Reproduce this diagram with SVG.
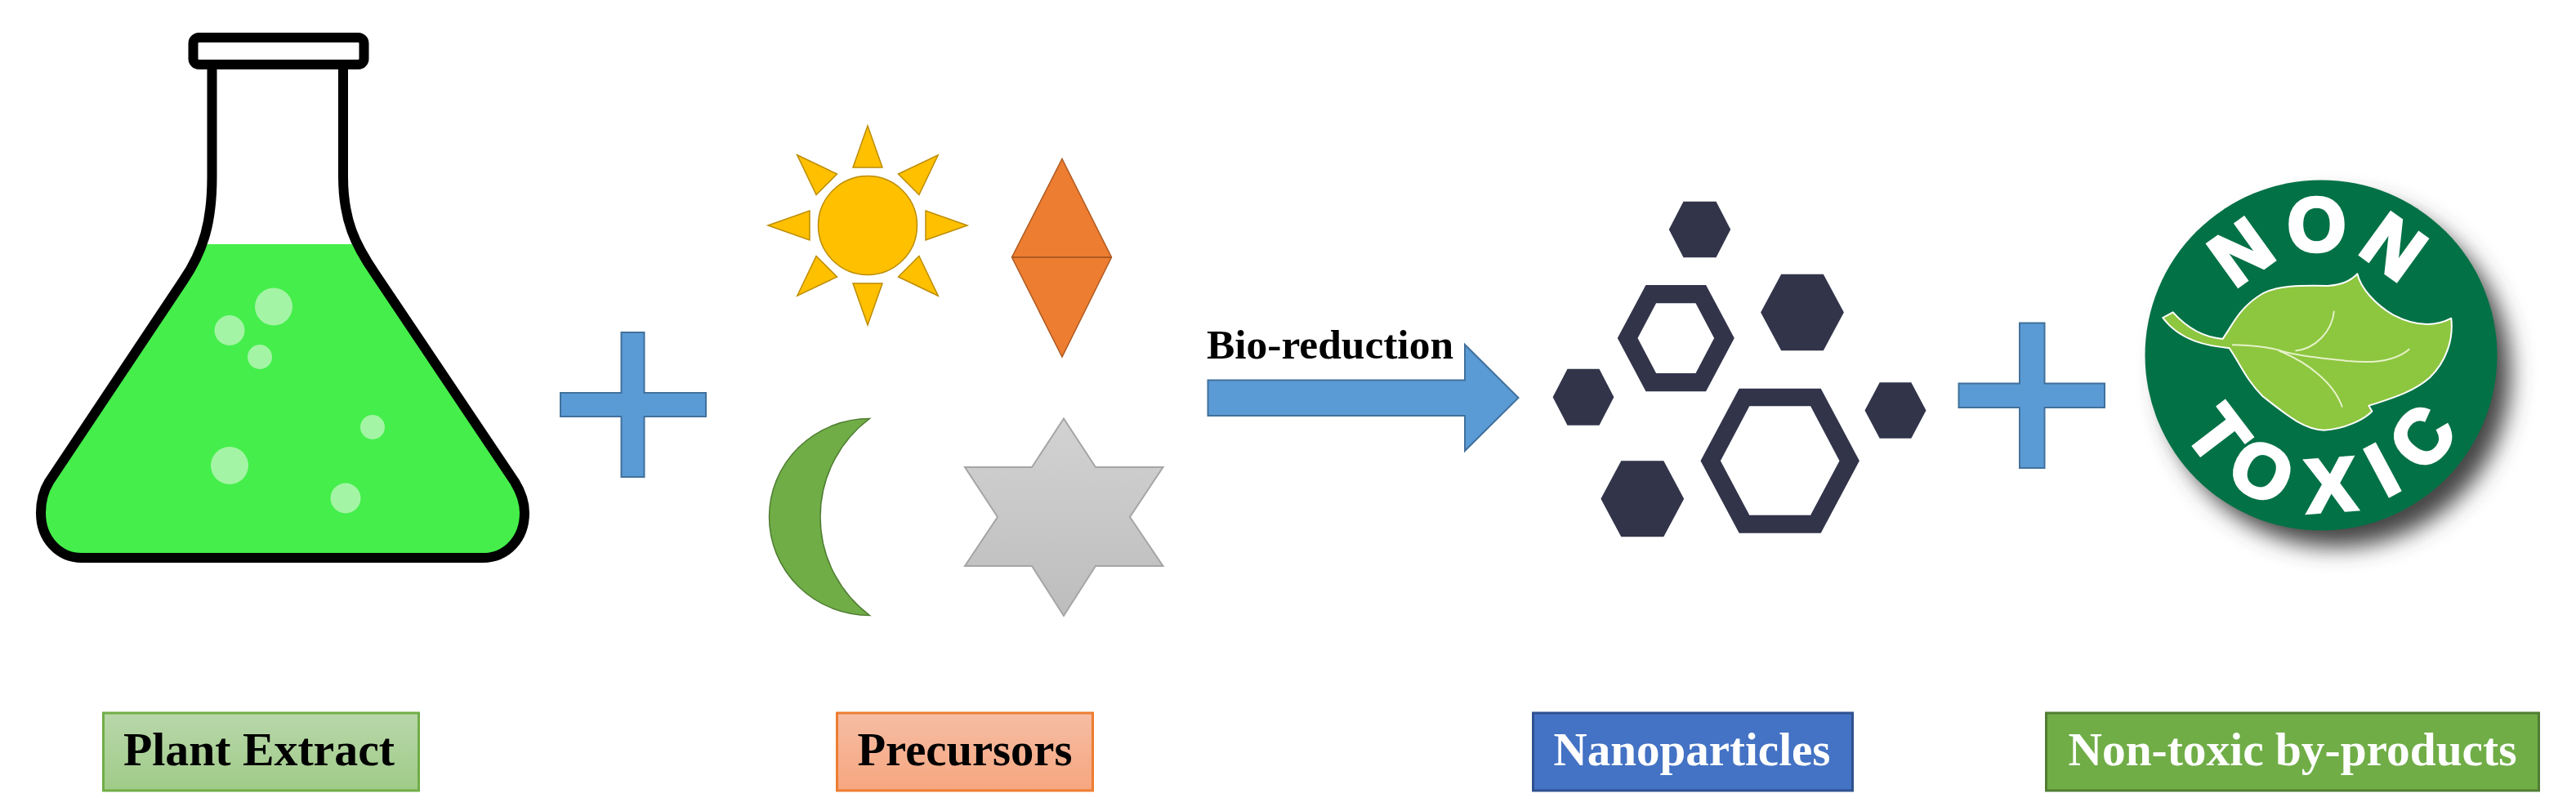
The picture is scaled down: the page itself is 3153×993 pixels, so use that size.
<svg xmlns="http://www.w3.org/2000/svg" width="3153" height="993" viewBox="0 0 3153 993">
<style>
.lbl{font-family:"Liberation Serif","Times New Roman",serif;font-weight:700;font-size:57px}
.blue{fill:#5b9bd5;stroke:#41719c;stroke-width:2}
.bub{fill:#a3f5a5}
.hex{fill:#32344a;fill-rule:evenodd}
.ray{fill:#ffc000;stroke:#bc8c00;stroke-width:1.5}
.bt{font-family:"Liberation Sans",Arial,sans-serif;font-weight:700;fill:#fff;stroke:#fff;stroke-width:4.5}
</style>
<defs>
<clipPath id="liq"><rect x="0" y="299" width="700" height="420"/></clipPath>
<linearGradient id="gG" x1="0" y1="0" x2="0" y2="1"><stop offset="0" stop-color="#b8d7aa"/><stop offset="1" stop-color="#a0cb88"/></linearGradient>
<linearGradient id="gO" x1="0" y1="0" x2="0" y2="1"><stop offset="0" stop-color="#f6bda4"/><stop offset="1" stop-color="#f6a67f"/></linearGradient>
<linearGradient id="gS" x1="0" y1="0" x2="0" y2="1"><stop offset="0" stop-color="#d2d2d2"/><stop offset="1" stop-color="#bdbdbd"/></linearGradient>
<filter id="blur" x="-20%" y="-20%" width="140%" height="140%"><feGaussianBlur stdDeviation="14"/></filter>
<path id="arcTop" d="M2713 435A128 128 0 0 1 2969 435"/>
<path id="arcBot" d="M2650 435A191 191 0 0 0 3032 435"/>
<polygon id="ray" class="ray" points="0,-122 18,-71 -18,-71"/>
</defs>
<rect width="3153" height="993" fill="#fff"/>

<g id="flask">
<path clip-path="url(#liq)" fill="#45ee4b" d="M259.5 85V216C259.5 270 250 306 224 344L60 590C52 603 50 615 50 628C50 660 72 683 100 683H591C620 683 642 660 642 628C642 615 638 603 630 590L459 335C435 300 420 270 420 216V85Z"/>
<circle class="bub" cx="335" cy="375.5" r="23"/>
<circle class="bub" cx="281" cy="404.5" r="18.5"/>
<circle class="bub" cx="318" cy="437" r="15"/>
<circle class="bub" cx="456" cy="523" r="15"/>
<circle class="bub" cx="281" cy="570" r="23"/>
<circle class="bub" cx="423" cy="610" r="18.5"/>
<path fill="none" stroke="#000" stroke-width="12" d="M259.5 85V216C259.5 270 250 306 224 344L60 590C52 603 50 615 50 628C50 660 72 683 100 683H591C620 683 642 660 642 628C642 615 638 603 630 590L459 335C435 300 420 270 420 216V85"/>
<rect x="236.5" y="46" width="209" height="33" rx="7" fill="#fff" stroke="#000" stroke-width="12"/>
</g>

<g id="sun">
<circle cx="1062" cy="276" r="60.5" fill="#ffc000" stroke="#bc8c00" stroke-width="1.5"/>
<use href="#ray" transform="translate(1062 276)"/>
<use href="#ray" transform="translate(1062 276) rotate(45)"/>
<use href="#ray" transform="translate(1062 276) rotate(90)"/>
<use href="#ray" transform="translate(1062 276) rotate(135)"/>
<use href="#ray" transform="translate(1062 276) rotate(180)"/>
<use href="#ray" transform="translate(1062 276) rotate(225)"/>
<use href="#ray" transform="translate(1062 276) rotate(270)"/>
<use href="#ray" transform="translate(1062 276) rotate(315)"/>
</g>
<g id="diamond">
<path d="M1300 194.5L1360.5 315L1300 437L1238.5 315Z" fill="#ed7d31" stroke="#ae5a21" stroke-width="1.5"/>
<path d="M1238.5 315H1360.5" stroke="#ae5a21" stroke-width="2" fill="none"/>
</g>
<g id="moon">
<path d="M1064.5 512.5A123 120.5 0 0 0 1064.5 753.5A150.3 150.3 0 0 1 1064.5 512.5Z" fill="#70ad47" stroke="#507e32" stroke-width="1.5"/>
</g>
<g id="star">
<path d="M1302 512.5L1341 572H1423.5L1383 633L1423.5 693H1341L1302 754L1263 693H1181L1221 633L1181 572H1263Z" fill="url(#gS)" stroke="#a5a5a5" stroke-width="2"/>
</g>

<g id="connectors">
<path id="plus-1" class="blue" d="M760.5 407H788.5V481H864V510H788.5V584H760.5V510H686V481H760.5Z"/>
<path id="reaction-arrow" class="blue" d="M1478.5 465.5H1793V422L1858.5 487L1793 552V509H1478.5Z"/>
<path id="plus-2" class="blue" d="M2472 395.5H2502.5V469.5H2576V499H2502.5V573H2472V499H2397.5V469.5H2472Z"/>
<text class="lbl" x="1477" y="439" style="font-size:51px" textLength="302" lengthAdjust="spacingAndGlyphs">Bio-reduction</text>
</g>

<g id="nanoparticles">
<path class="hex" d="M2060.5 246.7H2100.5L2118.2 281L2100.5 315.3H2060.5L2042.8 281Z"/>
<path class="hex" d="M2180.2 335.7H2231.8L2256.9 382.5L2231.8 429.3H2180.2L2155.1 382.5Z"/>
<path class="hex" d="M1918.5 451.7H1957.5L1975.4 486.2L1957.5 520.7H1918.5L1900.6 486.2Z"/>
<path class="hex" d="M2300.7 468.3H2339.3L2357.5 502.5L2339.3 536.7H2300.7L2282.5 502.5Z"/>
<path class="hex" d="M1984.3 564.3H2036.3L2061.2 610.8L2036.3 657.3H1984.3L1959.4 610.8Z"/>
<path class="hex" d="M2014.5 349H2088.1L2122.8 414L2088.1 479.3H2014.5L1979.8 414ZM2027.1 371.3L2004.5 414L2027.1 457H2075.5L2098.1 414L2075.5 371.3Z"/>
<path class="hex" d="M2128.7 475.7H2228.7L2275.9 564.2L2228.7 652.7H2128.7L2081.5 564.2ZM2141.3 497.3L2105.9 564.2L2141.3 630.7H2216.1L2251.5 564.2L2216.1 497.3Z"/>
</g>

<g id="non-toxic-badge">
<circle cx="2860" cy="457" r="213" fill="#444" filter="url(#blur)"/>
<ellipse cx="2841" cy="435" rx="215.5" ry="214.5" fill="#037146"/>
<text class="bt" font-size="92" letter-spacing="11" text-anchor="middle"><textPath href="#arcTop" startOffset="50%">NON</textPath></text>
<text class="bt" font-size="92" text-anchor="middle"><textPath href="#arcBot" startOffset="50%"><tspan dx="0 22 38 36 30">TOXIC</tspan></textPath></text>
<g transform="translate(2370 190) scale(.4994 .3317)">
<path d="M555 600L580 580C610 630 650 672 702 678C725 630 740 570 790 520C830 478 900 480 960 482C990 480 1015 465 1032 438C1040 490 1075 550 1120 590C1165 625 1215 640 1262 602C1268 680 1250 760 1210 820C1170 875 1110 900 1060 925L1068 945C1050 975 1000 1012 950 1015C900 1012 860 960 800 890C760 830 745 770 718 712C670 705 600 690 555 600Z" fill="#8dc63f" stroke="#fff" stroke-width="2" vector-effect="non-scaling-stroke" stroke-linejoin="round"/>
<path d="M725 700C770 702 810 705 840 720C890 745 960 750 1010 760C1080 770 1130 755 1160 715M880 722C930 715 970 650 975 575M840 722C910 765 975 840 995 930" fill="none" stroke="#e6f2c8" stroke-width="2" vector-effect="non-scaling-stroke"/>
</g>
</g>

<g id="label-plant-extract">
<rect x="126.5" y="873" width="386" height="95" fill="url(#gG)" stroke="#70ad47" stroke-width="3"/>
<text class="lbl" x="151" y="937" fill="#000" textLength="332" lengthAdjust="spacingAndGlyphs">Plant Extract</text>
</g>
<g id="label-precursors">
<rect x="1024.5" y="873" width="313" height="95" fill="url(#gO)" stroke="#ed7d31" stroke-width="3"/>
<text class="lbl" x="1049.5" y="937" fill="#000" textLength="263" lengthAdjust="spacingAndGlyphs">Precursors</text>
</g>
<g id="label-nanoparticles">
<rect x="1876.5" y="873" width="391" height="95" fill="#4472c4" stroke="#2f528f" stroke-width="3"/>
<text class="lbl" x="1901.5" y="937" fill="#fff" textLength="339" lengthAdjust="spacingAndGlyphs">Nanoparticles</text>
</g>
<g id="label-non-toxic">
<rect x="2504.5" y="873" width="603" height="95" fill="#70ad47" stroke="#507e32" stroke-width="3"/>
<text class="lbl" x="2531.5" y="937" fill="#fff" textLength="549" lengthAdjust="spacingAndGlyphs">Non-toxic by-products</text>
</g>
</svg>
